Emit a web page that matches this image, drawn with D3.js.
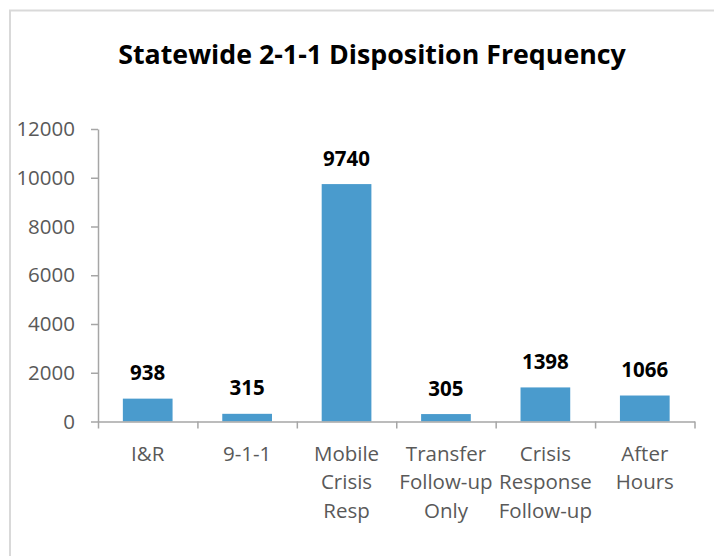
<!DOCTYPE html>
<html>
<head>
<meta charset="utf-8">
<script src="https://cdn.jsdelivr.net/npm/d3@7"></script>
<style>
  html, body { margin: 0; padding: 0; background: #ffffff; }
  svg { display: block; }
</style>
</head>
<body>
<svg id="chart" width="714" height="556"></svg>
<script>
// ---- data ----
const categories = [
  ["I&R"],
  ["9-1-1"],
  ["Mobile", "Crisis", "Resp"],
  ["Transfer", "Follow-up", "Only"],
  ["Crisis", "Response", "Follow-up"],
  ["After", "Hours"]
];
const values = [938, 315, 9740, 305, 1398, 1066];
const yTicks = [0, 2000, 4000, 6000, 8000, 10000, 12000];
const title = "Statewide 2-1-1 Disposition Frequency";

// ---- layout ----
const W = 714, H = 556;
const plotLeft = 98, plotRight = 694.5, plotTop = 129, plotBottom = 421.5;
const font = "'Open Sans', 'Liberation Sans', sans-serif";
const barColor = "#4a9bcd";
const axisColor = "#a6a6a6";
const textColor = "#595959";

const svg = d3.select("#chart");

svg.append("rect")
  .attr("x", 0).attr("y", 0).attr("width", W).attr("height", H)
  .attr("fill", "#ffffff");

// chart area border (extends beyond the picture to the right and bottom)
svg.append("rect")
  .attr("x", 10).attr("y", 10.5).attr("width", 760).attr("height", 600)
  .attr("fill", "none").attr("stroke", "#d9d9d9").attr("stroke-width", 2);

const idx = categories.map((d, i) => i);
const x = d3.scaleBand().domain(idx).range([plotLeft, plotRight]).paddingInner(0.5).paddingOuter(0.25);
const xb = d3.scaleLinear().domain([0, categories.length]).range([plotLeft, plotRight]);
const y = d3.scaleLinear().domain([0, 12000]).range([plotBottom, plotTop]);

// title
const t = svg.append("text")
  .attr("x", 372).attr("y", 64)
  .attr("text-anchor", "middle")
  .attr("font-family", font).attr("font-weight", "bold")
  .attr("font-size", 24).attr("fill", "#000000")
  .text(title);
const tw = t.node().getComputedTextLength();
if (tw > 0) t.attr("font-size", 24 * 508 / tw);

// y axis
const yAxis = svg.append("g")
  .attr("transform", `translate(${plotLeft},0)`)
  .call(d3.axisLeft(y).tickValues(yTicks).tickSize(7).tickPadding(16).tickSizeOuter(0).tickFormat(d3.format("d")));
yAxis.select(".domain").attr("stroke", axisColor).attr("stroke-width", 1.5);
yAxis.selectAll(".tick line").attr("stroke", axisColor).attr("stroke-width", 1.5);
yAxis.selectAll(".tick text")
  .attr("font-family", font).attr("font-size", 20.5).attr("fill", textColor);

// bars
svg.append("g").selectAll("rect")
  .data(values)
  .join("rect")
  .attr("x", (d, i) => x(i))
  .attr("width", x.bandwidth())
  .attr("y", d => y(d))
  .attr("height", d => y(0) - y(d))
  .attr("fill", barColor);

// x axis (baseline with boundary ticks)
const xAxis = svg.append("g")
  .attr("transform", `translate(0,${plotBottom})`)
  .call(d3.axisBottom(xb).tickValues(d3.range(categories.length + 1))
    .tickSize(7).tickSizeOuter(0).tickFormat(""));
xAxis.select(".domain").attr("stroke", axisColor).attr("stroke-width", 1.5);
xAxis.selectAll(".tick line").attr("stroke", axisColor).attr("stroke-width", 1.5);

// category labels
const cl = svg.append("g").selectAll("text")
  .data(categories)
  .join("text")
  .attr("text-anchor", "middle")
  .attr("font-family", font).attr("font-size", 20.5).attr("fill", textColor);
cl.each(function(lines, i) {
  const cx = x(i) + x.bandwidth() / 2;
  d3.select(this).selectAll("tspan")
    .data(lines)
    .join("tspan")
    .attr("x", cx)
    .attr("y", (l, j) => 461 + j * 28.3)
    .text(l => l);
});

// value labels
svg.append("g").selectAll("text")
  .data(values)
  .join("text")
  .attr("x", (d, i) => x(i) + x.bandwidth() / 2)
  .attr("y", d => y(d) - 18.5)
  .attr("text-anchor", "middle")
  .attr("font-family", font).attr("font-weight", "bold")
  .attr("font-size", 20.5).attr("fill", "#000000")
  .text(d => d);
</script>
</body>
</html>
